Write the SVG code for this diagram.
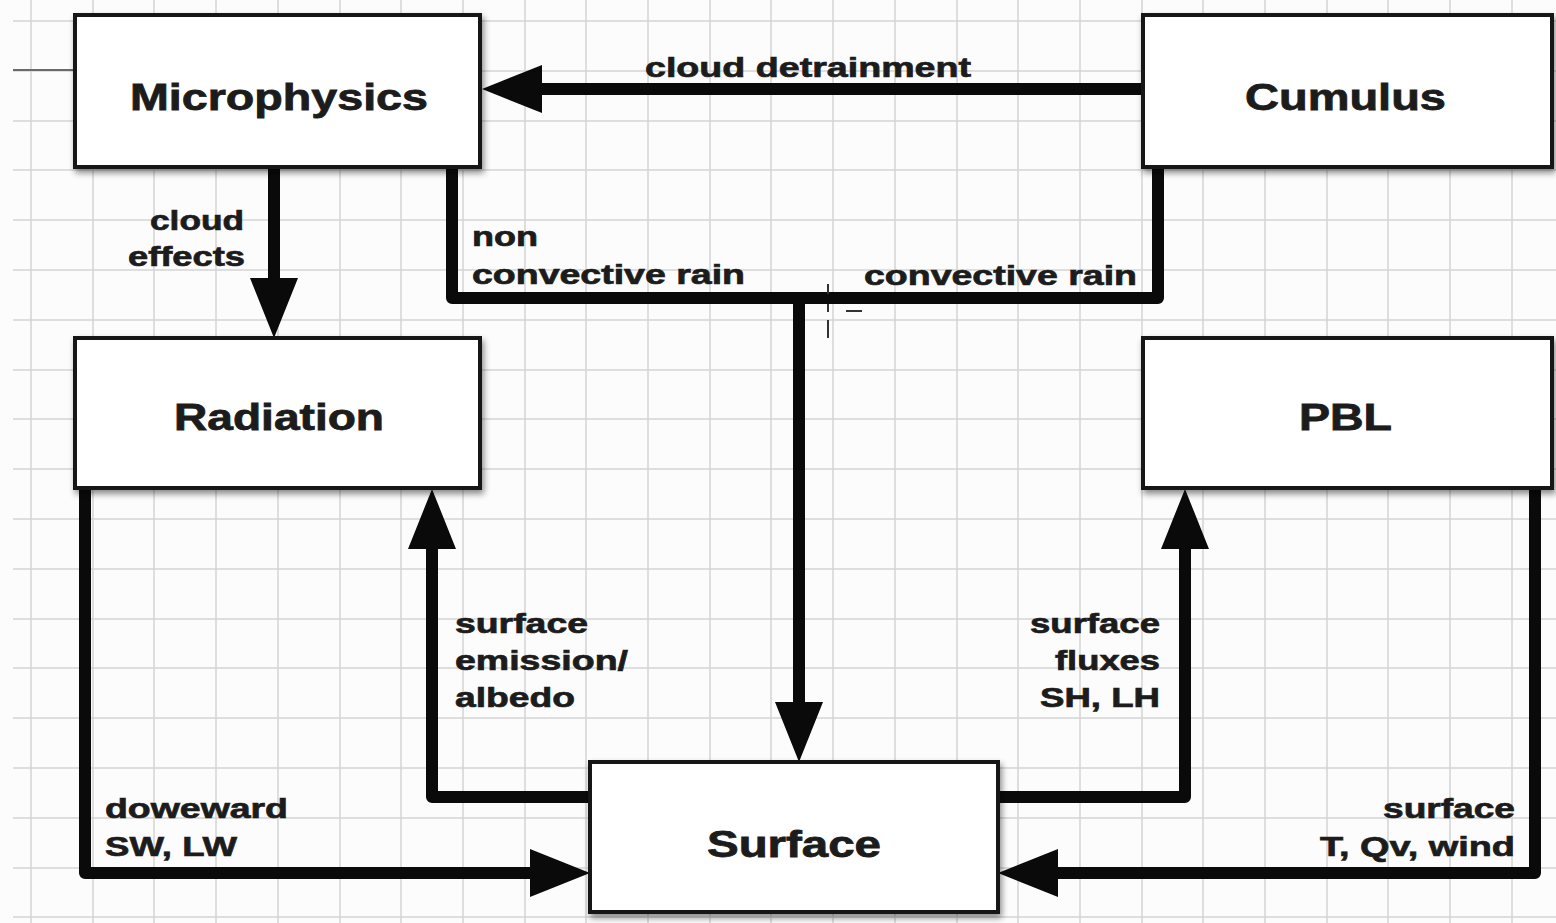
<svg xmlns="http://www.w3.org/2000/svg" width="1556" height="923" viewBox="0 0 1556 923">
  <style>
    .grid { stroke: #d3d3d3; stroke-width: 1.5; fill: none; }
    .box { fill: #ffffff; stroke: #151515; stroke-width: 4; filter: url(#shadow); }
    .node-label { font-family: "Liberation Sans", Arial, sans-serif; font-weight: bold; font-size: 37px; fill: #1c1c1c; stroke: #1c1c1c; stroke-width: 0.8; }
    .edge-label { font-family: "Liberation Sans", Arial, sans-serif; font-weight: bold; font-size: 28px; fill: #1c1c1c; stroke: #1c1c1c; stroke-width: 0.7; }
    .link { fill: none; stroke: #0a0a0a; stroke-width: 12; stroke-linejoin: round; }
  </style>
  <defs>
    <filter id="shadow" x="-5%" y="-10%" width="115%" height="130%">
      <feDropShadow dx="2" dy="4" stdDeviation="3" flood-color="#000" flood-opacity="0.45"/>
    </filter>
    <marker id="arrow" markerUnits="userSpaceOnUse" markerWidth="62" markerHeight="48" refX="0" refY="24" orient="auto" overflow="visible">
      <path d="M0,0 L60,24 L0,48 Z" fill="#0a0a0a"/>
    </marker>
  </defs>

  <rect width="1556" height="923" fill="#fcfcfc"/>

  <!-- background grid -->
  <g id="grid">
    <path class="grid" d="M13,21 H1556 M13,71 H1556 M13,121 H1556 M13,170 H1556 M13,220 H1556 M13,270 H1556 M13,320 H1556 M13,370 H1556 M13,419 H1556 M13,469 H1556 M13,519 H1556 M13,569 H1556 M13,619 H1556 M13,668 H1556 M13,718 H1556 M13,768 H1556 M13,818 H1556 M13,868 H1556 M13,917 H1556"/>
    <path class="grid" d="M31,0 V923 M93,0 V923 M154,0 V923 M216,0 V923 M278,0 V923 M340,0 V923 M401,0 V923 M463,0 V923 M525,0 V923 M586,0 V923 M648,0 V923 M710,0 V923 M771,0 V923 M833,0 V923 M895,0 V923 M957,0 V923 M1018,0 V923 M1080,0 V923 M1142,0 V923 M1203,0 V923 M1265,0 V923 M1327,0 V923 M1388,0 V923 M1450,0 V923 M1512,0 V923"/>
    <line x1="13" y1="70" x2="75" y2="70" stroke="#6a6a6a" stroke-width="2"/>
  </g>

  <!-- connectors -->
  <g id="connectors">
    <path class="link" d="M1143,89 H542" marker-end="url(#arrow)"/>
    <path class="link" d="M274,167 V278" marker-end="url(#arrow)"/>
    <path class="link" d="M452,167 V298 H1158 V167"/>
    <path class="link" d="M799,298 V702" marker-end="url(#arrow)"/>
    <path class="link" d="M85,488 V873 H530" marker-end="url(#arrow)"/>
    <path class="link" d="M590,797 H432 V549" marker-end="url(#arrow)"/>
    <path class="link" d="M998,797 H1185 V549" marker-end="url(#arrow)"/>
    <path class="link" d="M1535,488 V873 H1058" marker-end="url(#arrow)"/>

    <text class="edge-label" x="645" y="77" textLength="326" lengthAdjust="spacingAndGlyphs">cloud detrainment</text>
    <text class="edge-label" x="150" y="230" textLength="94" lengthAdjust="spacingAndGlyphs">cloud</text>
    <text class="edge-label" x="128" y="266" textLength="117" lengthAdjust="spacingAndGlyphs">effects</text>
    <text class="edge-label" x="472" y="246" textLength="66" lengthAdjust="spacingAndGlyphs">non</text>
    <text class="edge-label" x="472" y="284" textLength="273" lengthAdjust="spacingAndGlyphs">convective rain</text>
    <text class="edge-label" x="864" y="285" textLength="273" lengthAdjust="spacingAndGlyphs">convective rain</text>
    <text class="edge-label" x="455" y="633" textLength="133" lengthAdjust="spacingAndGlyphs">surface</text>
    <text class="edge-label" x="455" y="670" textLength="173" lengthAdjust="spacingAndGlyphs">emission/</text>
    <text class="edge-label" x="455" y="707" textLength="120" lengthAdjust="spacingAndGlyphs">albedo</text>
    <text class="edge-label" x="1030" y="633" textLength="130" lengthAdjust="spacingAndGlyphs">surface</text>
    <text class="edge-label" x="1055" y="670" textLength="105" lengthAdjust="spacingAndGlyphs">fluxes</text>
    <text class="edge-label" x="1040" y="707" textLength="120" lengthAdjust="spacingAndGlyphs">SH, LH</text>
    <text class="edge-label" x="105" y="818" textLength="183" lengthAdjust="spacingAndGlyphs">doweward</text>
    <text class="edge-label" x="105" y="856" textLength="132" lengthAdjust="spacingAndGlyphs">SW, LW</text>
    <text class="edge-label" x="1383" y="818" textLength="132" lengthAdjust="spacingAndGlyphs">surface</text>
    <text class="edge-label" x="1320" y="856" textLength="195" lengthAdjust="spacingAndGlyphs">T, Qv, wind</text>
  </g>

  <!-- pointer crosshair near the rain junction -->
  <g id="crosshair" stroke="#333" stroke-width="2">
    <line x1="828" y1="284" x2="828" y2="294"/>
    <line x1="828" y1="304" x2="828" y2="312"/>
    <line x1="828" y1="320" x2="828" y2="338"/>
    <line x1="846" y1="311" x2="862" y2="311"/>
  </g>

  <!-- nodes -->
  <g id="microphysics">
    <rect class="box" x="75" y="15" width="405" height="152"/>
    <text class="node-label" x="130" y="110" textLength="298" lengthAdjust="spacingAndGlyphs">Microphysics</text>
  </g>
  <g id="cumulus">
    <rect class="box" x="1143" y="15" width="409" height="152"/>
    <text class="node-label" x="1245" y="110" textLength="201" lengthAdjust="spacingAndGlyphs">Cumulus</text>
  </g>
  <g id="radiation">
    <rect class="box" x="75" y="338" width="405" height="150"/>
    <text class="node-label" x="174" y="430" textLength="210" lengthAdjust="spacingAndGlyphs">Radiation</text>
  </g>
  <g id="pbl">
    <rect class="box" x="1143" y="338" width="409" height="150"/>
    <text class="node-label" x="1299" y="430" textLength="93" lengthAdjust="spacingAndGlyphs">PBL</text>
  </g>
  <g id="surface">
    <rect class="box" x="590" y="762" width="408" height="150"/>
    <text class="node-label" x="707" y="857" textLength="174" lengthAdjust="spacingAndGlyphs">Surface</text>
  </g>
</svg>
